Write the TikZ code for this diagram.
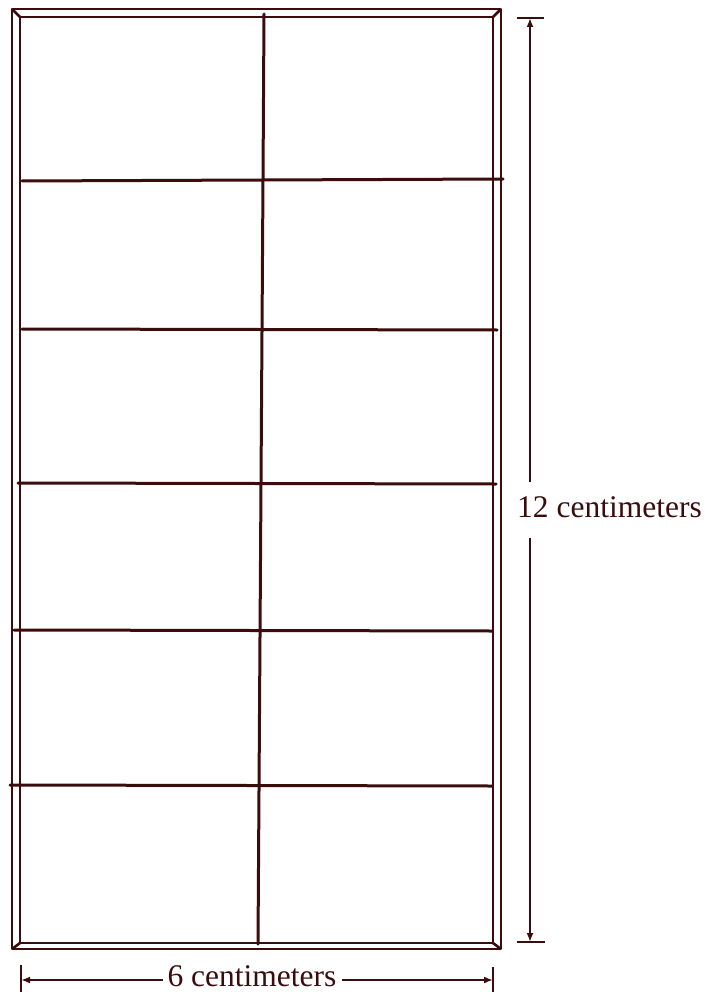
\documentclass[tikz,border=0pt]{standalone}
\usepackage{fontspec}
\setmainfont{Liberation Serif}
\usepackage{tikz}
\usetikzlibrary{arrows.meta}
\definecolor{ink}{HTML}{3A0C0C}
\tikzset{
  frameline/.style={ink, line width=2.6pt},
  pencil/.style={ink, line width=3pt, line cap=round},
  dimline/.style={ink, line width=2pt, -{Latex[length=9pt,width=7pt]}},
  tickline/.style={ink, line width=2.4pt},
  dimlabel/.style={text=ink, inner sep=0pt, font=\fontsize{31.5}{36}\selectfont}
}

\begin{document}
\begin{tikzpicture}[x=1pt, y=-1pt, line join=round]
\useasboundingbox (0,0) rectangle (704,992);
%% frame
\coordinate (oTL) at (12,9);   \coordinate (oTR) at (501,9);
\coordinate (oBL) at (12,949); \coordinate (oBR) at (501,949);
\coordinate (iTL) at (20,17);  \coordinate (iTR) at (493,17);
\coordinate (iBL) at (20,943); \coordinate (iBR) at (493,943);
\draw[frameline] (oTL) -- (oTR) -- (oBR) -- (oBL) -- cycle;
\draw[frameline] (iTL) -- (iTR) -- (iBR) -- (iBL) -- cycle;
\draw[frameline] (oTL) -- (iTL);
\draw[frameline] (oTR) -- (iTR);
\draw[frameline] (oBL) -- (iBL);
\draw[frameline] (oBR) -- (iBR);
%% grid
\draw[pencil] (264,14) -- (263,180) -- (261,483) -- (258,944);
\draw[pencil] (22,181) -- (262,180) -- (503,179);
\draw[pencil] (22,329) -- (497,330);
\draw[pencil] (18,483) -- (496,484);
\draw[pencil] (14,630) -- (492,631);
\draw[pencil] (10,785) -- (492,786);
%% height
\coordinate (hTop) at (530,18);
\coordinate (hBot) at (530,942);
\coordinate (hGapT) at (530,482);
\coordinate (hGapB) at (530,538);
\draw[tickline] (517,18) -- (544,18);
\draw[tickline] (517,942) -- (545,942);
\draw[dimline] (hGapT) -- (hTop);
\draw[dimline] (hGapB) -- (hBot);
\node[dimlabel, anchor=base west] (lblHeight) at (517,517) {12 centimeters};
%% width
\coordinate (wLft) at (21,980);
\coordinate (wRgt) at (493,980);
\coordinate (wGapL) at (163,980);
\coordinate (wGapR) at (342,980);
\draw[tickline] (21,965) -- (21,992);
\draw[tickline] (493,967) -- (493,992);
\draw[dimline] (wGapL) -- (wLft);
\draw[dimline] (wGapR) -- (wRgt);
\node[dimlabel, anchor=base] (lblWidth) at (252,986) {6 centimeters};
\end{tikzpicture}
\end{document}
